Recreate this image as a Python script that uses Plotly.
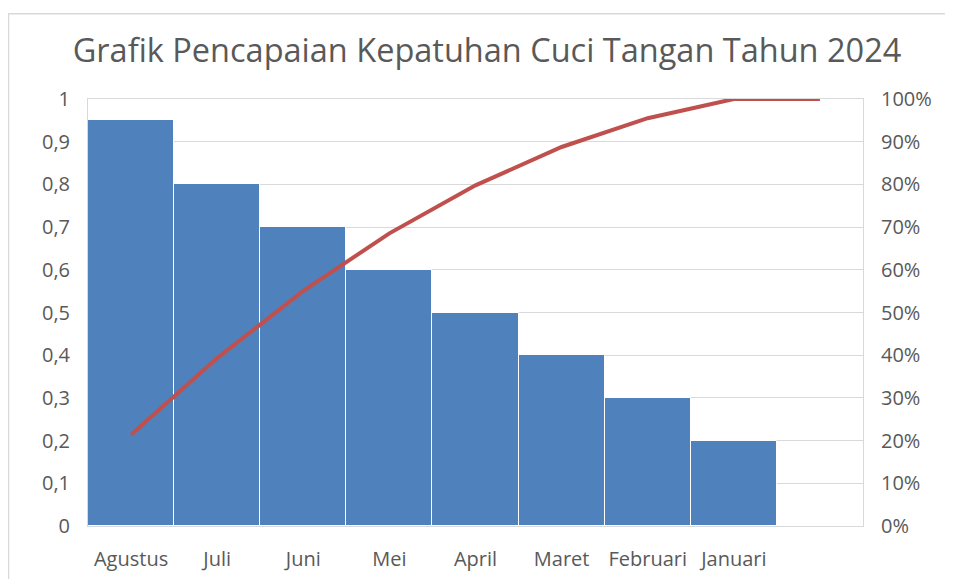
import plotly.graph_objects as go

categories = ["Agustus", "Juli", "Juni", "Mei", "April", "Maret", "Februari", "Januari"]
values = [0.95, 0.8, 0.7, 0.6, 0.5, 0.4, 0.3, 0.2]
left_ticks = [0, 0.1, 0.2, 0.3, 0.4, 0.5, 0.6, 0.7, 0.8, 0.9, 1]
left_ticktext = ["0", "0,1", "0,2", "0,3", "0,4", "0,5", "0,6", "0,7", "0,8", "0,9", "1"]
right_ticks = [0, 0.1, 0.2, 0.3, 0.4, 0.5, 0.6, 0.7, 0.8, 0.9, 1]
right_ticktext = ["0%", "10%", "20%", "30%", "40%", "50%", "60%", "70%", "80%", "90%", "100%"]

total = sum(values)
cum = []
s = 0
for v in values:
    s += v
    cum.append(s / total)
# Excel Pareto line continues one extra slot at 100%
cum_line = cum + [cum[-1]]

W, H = 945, 576
ml, mr, mt, mb = 80, 90, 91, 54
FONT = "Open Sans"
GRAY = "#595959"

x_bar = list(range(len(categories)))
x_line = list(range(len(categories) + 1))

fig = go.Figure()
fig.add_trace(go.Bar(
    x=x_bar, y=values, width=1,
    marker=dict(color="#4f81bd", line=dict(color="white", width=1)),
    showlegend=False, hoverinfo="y",
))
fig.add_trace(go.Scatter(
    x=x_line, y=cum_line, yaxis="y2", mode="lines",
    line=dict(color="#c0504d", width=4),
    showlegend=False,
))

pw = W - ml - mr
ph = H - mt - mb

fig.update_layout(
    width=W, height=H,
    margin=dict(l=ml, r=mr, t=mt, b=mb),
    paper_bgcolor="white", plot_bgcolor="white",
    title=dict(text="Grafik Pencapaian Kepatuhan Cuci Tangan Tahun 2024",
               x=479 / W, xanchor="center", y=1 - 43 / H, yanchor="middle",
               font=dict(family=FONT, size=32.5, color=GRAY)),
    bargap=0,
    xaxis=dict(range=[-0.5, 8.5], tickmode="array", tickvals=x_bar, ticktext=categories,
               showgrid=False, zeroline=False, showline=True, linecolor="#d9d9d9",
               mirror=True, ticks="", ticklabelstandoff=15,
               tickfont=dict(family=FONT, size=20, color=GRAY)),
    yaxis=dict(range=[0, 1], tickmode="array", tickvals=left_ticks, ticktext=left_ticktext,
               showgrid=True, gridcolor="#d9d9d9", gridwidth=1, zeroline=False,
               showline=True, linecolor="#d9d9d9", mirror=True, ticks="",
               ticklabelstandoff=13,
               tickfont=dict(family=FONT, size=20, color=GRAY)),
    yaxis2=dict(range=[0, 1], overlaying="y", side="right", tickmode="array",
                tickvals=right_ticks, ticktext=right_ticktext, showgrid=False,
                zeroline=False, showline=False, ticks="", ticklabelstandoff=17,
                tickfont=dict(family=FONT, size=20, color=GRAY)),
    shapes=[dict(type="rect", xref="paper", yref="paper",
                 x0=(0.5 - ml) / pw, x1=(W + 5 - ml) / pw,
                 y0=-(mb + 20) / ph, y1=1 + (mt - 5) / ph,
                 line=dict(color="#d9d9d9", width=1.5), layer="below")],
)

fig.write_html("out.html")
